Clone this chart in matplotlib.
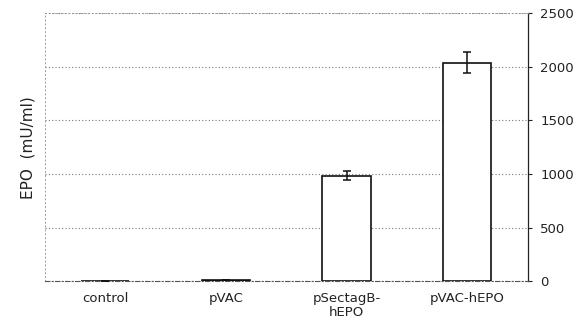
import matplotlib.pyplot as plt
import numpy as np

categories = ["control", "pVAC", "pSectagB-\nhEPO", "pVAC-hEPO"]
epo_values = [5, 12, 985, 2040]
epo_errors = [0, 0, 45, 95]
y_ticks = [0, 500, 1000, 1500, 2000, 2500]

fig = plt.figure(figsize=(5.76, 3.32), dpi=100)
ax = fig.add_axes([0.078, 0.153, 0.838, 0.807])

x = np.arange(len(categories))
ax.bar(x, epo_values, width=0.4, color="white", edgecolor="#111111", linewidth=1.2,
       yerr=epo_errors, capsize=3, error_kw=dict(ecolor="#111111", elinewidth=1.1, capthick=1.1),
       zorder=3)

ax.set_xlim(-0.5, len(categories) - 0.5)
ax.set_ylim(0, 2500)
ax.set_yticks(y_ticks)
ax.yaxis.tick_right()
ax.tick_params(axis="y", length=3, width=0.8, labelsize=9.5, pad=6, colors="#222222")
ax.set_xticks(x)
ax.set_xticklabels(categories, fontsize=9.5, color="#222222", linespacing=1.05)
ax.tick_params(axis="x", length=0, pad=8)

ax.grid(axis="y", linestyle=(0, (1, 2)), color="#777777", linewidth=0.8, zorder=0)
ax.set_ylabel("EPO  (mU/ml)", fontsize=11, labelpad=7, color="#222222")
ax.yaxis.set_label_position("left")

ax.spines["right"].set_color("#222222")
ax.spines["right"].set_linewidth(0.9)
ax.spines["left"].set_linestyle((0, (1, 3)))
ax.spines["left"].set_color("#999999")
ax.spines["left"].set_linewidth(0.7)
ax.spines["top"].set_linestyle((0, (1, 3)))
ax.spines["top"].set_color("#999999")
ax.spines["top"].set_linewidth(0.7)
ax.spines["bottom"].set_linestyle((0, (4, 2, 1, 2)))
ax.spines["bottom"].set_color("#555555")
ax.spines["bottom"].set_linewidth(0.8)

fig.savefig("out.png", dpi=100)
